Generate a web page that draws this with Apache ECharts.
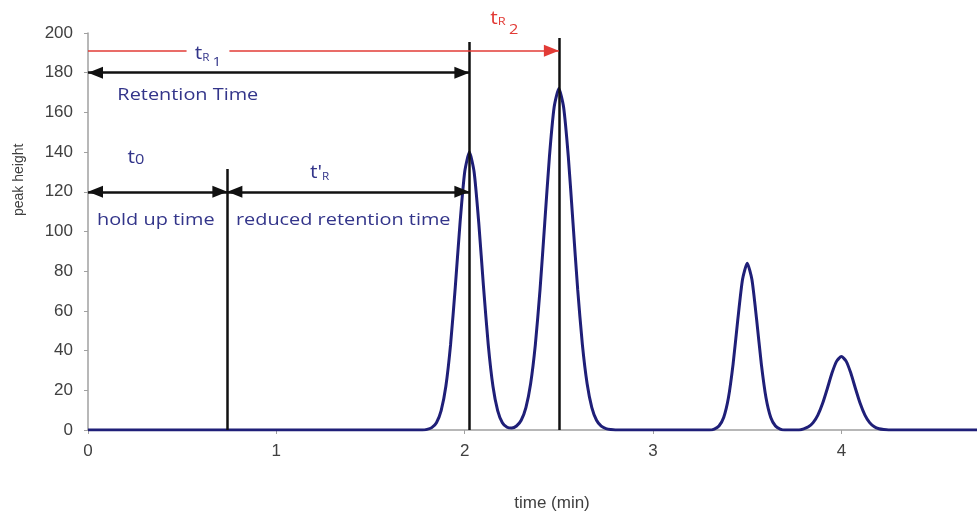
<!DOCTYPE html>
<html>
<head>
<meta charset="utf-8">
<script src="https://cdn.jsdelivr.net/npm/echarts@6/dist/echarts.min.js"></script>
<style>html,body{margin:0;padding:0;background:#fff}#c{width:977px;height:518px}</style>
</head>
<body>
<div id="c"></div>
<script>
// ---- data ----
const timeMin = [0, 1.775, 1.8, 1.825, 1.85, 1.875, 1.9, 1.925, 1.95, 1.975, 2.0, 2.025, 2.05, 2.075, 2.1, 2.125, 2.15, 2.175, 2.2, 2.225, 2.25, 2.275, 2.3, 2.325, 2.35, 2.375, 2.4, 2.425, 2.45, 2.475, 2.5, 2.525, 2.55, 2.575, 2.6, 2.625, 2.65, 2.675, 2.7, 2.725, 2.75, 2.775, 2.8, 3.3, 3.325, 3.35, 3.375, 3.4, 3.425, 3.45, 3.475, 3.5, 3.525, 3.55, 3.575, 3.6, 3.625, 3.65, 3.675, 3.7, 3.775, 3.8, 3.825, 3.85, 3.875, 3.9, 3.925, 3.95, 3.975, 4.0, 4.025, 4.05, 4.075, 4.1, 4.125, 4.15, 4.175, 4.2, 4.225, 4.25, 4.72];
const peakHeight = [0, 0, 0.3, 1.2, 3.7, 9.8, 22, 43, 72, 104, 130, 140, 130, 104, 72, 43, 22, 9.8, 3.7, 1.4, 1.0, 2.0, 4.9, 11.3, 23.3, 42.9, 70.7, 104.3, 137.8, 162.7, 172, 162.7, 137.8, 104.3, 70.7, 42.9, 23.3, 11.3, 4.9, 1.9, 0.7, 0.2, 0, 0, 0.5, 2.0, 6.3, 16.1, 33.2, 55.6, 75.8, 84, 75.8, 55.6, 33.2, 16.1, 6.3, 2.0, 0.5, 0, 0, 0.6, 1.6, 3.7, 7.5, 13.3, 20.8, 28.7, 34.7, 37, 34.7, 28.7, 20.8, 13.3, 7.5, 3.7, 1.6, 0.6, 0.2, 0, 0];
const xTickLabels = ['0', '1', '2', '3', '4'];
const yTickLabels = ['0', '20', '40', '60', '80', '100', '120', '140', '160', '180', '200'];

// annotation geometry (data units)
const markerTimes = [0.74, 2.025, 2.5];          // t0, tR1, tR2
const markerTops = [131.5, 195.5, 197.5];
const doubleArrows = [[0, 180, 2.025], [0, 120, 0.74], [0.74, 120, 2.025]]; // [x1, y, x2]
const redArrow = [0, 191, 2.5];

// annotation texts: [x, y, text key]
const annoTexts = [
  [0.637, 188, 'tR1'],
  [0.53, 168.5, 'Retention Time'],
  [0.255, 137, 't0'],
  [0.36, 105.5, 'hold up time'],
  [1.23, 129.5, "t'R"],
  [1.355, 105.5, 'reduced retention time'],
  [2.21, 205, 'tR2']
];

const navy = '#33358a';
const red = '#e23b36';
const font = 'Open Sans';

function tok(size, color, padTop) {
  return {fontSize: size, fill: color, fontFamily: font, verticalAlign: 'top', padding: [padTop, 0, 0, 0]};
}
const richStyles = {
  t: tok(18, navy, 0),
  s: tok(10, navy, 8),
  n: tok(13, navy, 11),
  z: tok(14, navy, 4),
  tr: tok(18, red, 0),
  sr: tok(11, red, 7),
  nr: tok(14, red, 13),
  w: {fontSize: 17, fill: navy, fontFamily: font}
};
const fmtLabel = {
  'tR1': '{t|t}{s|R }{n|1}',
  'tR2': '{tr|t}{sr|R }{nr|2}',
  't0': '{t|t}{z|0}',
  "t'R": "{t|t'}{s|R}",
  'Retention Time': '{w|Retention Time}',
  'hold up time': '{w|hold up time}',
  'reduced retention time': '{w|reduced retention time}'
};

const chart = echarts.init(document.getElementById('c'), null, {renderer: 'canvas'});

const axisLabelStyle = {color: '#404040', fontFamily: 'Liberation Sans', fontSize: 17};
const arrowSize = [12, 15];
const arrowOffset = [[0, 7.5], [0, 7.5]];

chart.setOption({
  animation: false,
  backgroundColor: '#fff',
  grid: {left: 88, right: 0, top: 33, bottom: 88, containLabel: false},
  xAxis: {
    type: 'value', min: 0, max: 4.72, interval: 1,
    axisLine: {show: true, lineStyle: {color: '#a0a0a0', width: 1.5}},
    axisTick: {show: true, length: 4, lineStyle: {color: '#a0a0a0'}},
    splitLine: {show: false},
    axisLabel: Object.assign({margin: 13, showMaxLabel: false,
      formatter: v => (Number.isInteger(v) && v < xTickLabels.length) ? xTickLabels[v] : ''}, axisLabelStyle)
  },
  yAxis: {
    type: 'value', min: 0, max: 200, interval: 20,
    axisLine: {show: true, lineStyle: {color: '#a0a0a0', width: 1.5}},
    axisTick: {show: true, length: 4, lineStyle: {color: '#a0a0a0'}},
    splitLine: {show: false},
    axisLabel: Object.assign({margin: 15,
      formatter: v => yTickLabels[Math.round(v / 20)]}, axisLabelStyle)
  },
  series: [
    {
      type: 'line', name: 'signal',
      data: timeMin.map((t, i) => [t, peakHeight[i]]),
      showSymbol: false, smooth: 0.2,
      lineStyle: {color: '#1f1f78', width: 3},
      z: 2
    },
    {
      type: 'line', name: 'markers', data: [], z: 3,
      markLine: {
        silent: true, symbol: ['none', 'none'], label: {show: false},
        lineStyle: {color: '#111', width: 2.5, type: 'solid'},
        data: markerTimes.map((x, i) => [{coord: [x, 0]}, {coord: [x, markerTops[i]]}])
      }
    },
    {
      type: 'line', name: 'arrows', data: [], z: 3,
      markLine: {
        silent: true, symbol: ['triangle', 'triangle'], symbolSize: arrowSize, symbolOffset: arrowOffset,
        label: {show: false},
        lineStyle: {color: '#111', width: 2.5, type: 'solid'},
        data: doubleArrows.map(a => [{coord: [a[0], a[1]]}, {coord: [a[2], a[1]]}])
      }
    },
    {
      type: 'line', name: 'red', data: [], z: 3,
      markLine: {
        silent: true, symbol: ['none', 'triangle'], symbolSize: arrowSize, symbolOffset: arrowOffset,
        label: {show: false},
        lineStyle: {color: red, width: 1.5, type: 'solid'},
        data: [[{coord: [redArrow[0], redArrow[1]]}, {coord: [redArrow[2], redArrow[1]]}]]
      }
    }
  ]
});

// annotation texts placed through the chart's own scales
const stretch = 1.17;
const graphics = [
  {type: 'text', x: 552, y: 503, z: 10,
   style: {text: 'time (min)', fill: '#404040', font: '17px "Liberation Sans", Arial, sans-serif', align: 'center', verticalAlign: 'middle'}},
  {type: 'text', x: 12, y: 216, rotation: Math.PI / 2, z: 10,
   style: {text: 'peak height', fill: '#404040', font: '14px "Liberation Sans", Arial, sans-serif'}}
];
annoTexts.forEach(a => {
  const p = chart.convertToPixel({xAxisIndex: 0, yAxisIndex: 0}, [a[0], a[1]]);
  const st = {text: fmtLabel[a[2]], rich: richStyles, align: 'center', verticalAlign: 'middle'};
  if (a[2] === 'tR1') { st.backgroundColor = '#fff'; st.padding = [0, 7, 0, 7]; }
  graphics.push({type: 'text', x: p[0], y: p[1], scaleX: stretch, z: 10, style: st});
});
chart.setOption({graphic: graphics});
</script>
</body>
</html>
